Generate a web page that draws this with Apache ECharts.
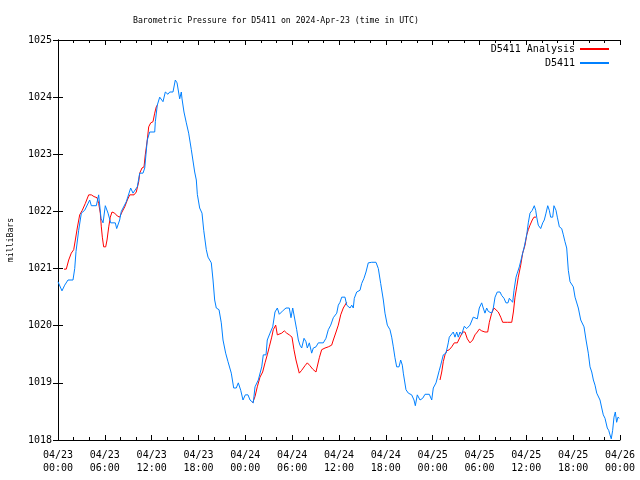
<!DOCTYPE html>
<html>
<head>
<meta charset="utf-8">
<script src="https://cdn.jsdelivr.net/npm/echarts@6/dist/echarts.min.js"></script>
<style>
html,body{margin:0;padding:0;background:#fff;}
#chart{width:640px;height:480px;}
</style>
</head>
<body>
<div id="chart"></div>
<script>
// Hours since 2024-04-23 00:00 UTC
var xTickLabels = ['04/23\n00:00','04/23\n06:00','04/23\n12:00','04/23\n18:00','04/24\n00:00','04/24\n06:00','04/24\n12:00','04/24\n18:00','04/25\n00:00','04/25\n06:00','04/25\n12:00','04/25\n18:00','04/26\n00:00'];
var yTickValues = [1018,1019,1020,1021,1022,1023,1024,1025];

var obsHours = [0.0,0.51,0.86,1.28,1.92,2.14,2.31,2.65,2.99,3.42,4.06,4.27,4.91,5.21,5.51,5.77,6.06,6.41,6.75,7.34,7.52,7.90,8.11,8.75,9.31,9.61,10.16,10.47,10.89,11.11,11.44,11.75,12.39,12.47,12.72,13.03,13.23,13.45,13.75,14.09,14.31,14.73,15.03,15.25,15.59,15.80,15.89,16.14,16.44,16.74,17.08,17.51,17.72,17.85,18.15,18.45,18.67,19.0,19.22,19.64,19.86,20.07,20.28,20.63,20.92,21.14,21.48,21.78,22.20,22.51,22.84,23.10,23.41,23.70,24.0,24.34,24.6,25.02,25.24,25.66,26.10,26.30,26.65,26.81,27.16,27.51,27.80,28.10,28.35,28.86,29.21,29.63,29.85,30.07,30.58,30.79,31.0,31.22,31.52,31.77,31.94,32.20,32.50,32.71,33.05,33.35,33.99,34.33,34.63,34.94,35.27,35.71,35.91,36.13,36.35,36.77,36.99,37.41,37.63,37.83,37.96,38.27,38.69,38.91,39.20,39.46,39.75,40.19,40.74,41.04,41.34,41.68,41.89,42.19,42.53,42.75,42.96,43.17,43.39,43.69,43.90,44.11,44.24,44.58,44.88,45.31,45.61,45.78,46.03,46.38,46.72,47.02,47.57,47.88,48.08,48.43,48.85,49.03,49.36,49.71,50.0,50.13,50.64,50.86,51.08,51.28,51.50,51.72,52.05,52.36,52.56,52.78,53.0,53.20,53.42,53.72,53.97,54.28,54.48,54.70,54.92,55.13,55.34,55.56,55.77,55.99,56.28,56.63,56.84,57.14,57.39,57.65,57.82,58.0,58.25,58.42,58.68,58.84,59.10,59.32,59.53,59.70,59.87,60.05,60.25,60.47,60.76,61.02,61.20,61.33,61.53,61.84,62.10,62.30,62.52,62.74,62.94,63.12,63.38,63.54,63.80,63.97,64.23,64.53,64.74,64.95,65.17,65.38,65.60,65.81,66.02,66.24,66.45,66.66,66.97,67.17,67.39,67.65,67.94,68.16,68.38,68.59,68.80,69.02,69.22,69.44,69.66,69.86,70.08,70.37,70.55,70.72,70.88,71.06,71.23,71.40,71.57,71.74,71.91];
var obsPressure = [1020.77,1020.61,1020.71,1020.8,1020.8,1021.0,1021.3,1021.67,1021.97,1022.02,1022.2,1022.1,1022.1,1022.29,1021.88,1021.8,1022.1,1021.97,1021.8,1021.8,1021.7,1021.85,1022.0,1022.17,1022.41,1022.32,1022.43,1022.67,1022.67,1022.76,1023.25,1023.39,1023.39,1023.57,1023.86,1024.0,1023.97,1023.92,1024.09,1024.05,1024.09,1024.09,1024.3,1024.25,1023.97,1024.09,1023.97,1023.74,1023.55,1023.37,1023.08,1022.69,1022.55,1022.3,1022.06,1021.97,1021.67,1021.33,1021.2,1021.1,1020.8,1020.45,1020.31,1020.28,1020.05,1019.75,1019.52,1019.37,1019.17,1018.91,1018.91,1019.0,1018.87,1018.7,1018.79,1018.79,1018.7,1018.65,1018.93,1019.05,1019.28,1019.49,1019.49,1019.75,1019.87,1019.98,1020.24,1020.31,1020.2,1020.27,1020.31,1020.31,1020.14,1020.31,1019.93,1019.75,1019.66,1019.61,1019.78,1019.72,1019.61,1019.70,1019.52,1019.61,1019.63,1019.70,1019.70,1019.78,1019.93,1020.01,1020.14,1020.22,1020.36,1020.41,1020.5,1020.5,1020.36,1020.31,1020.36,1020.31,1020.48,1020.59,1020.62,1020.74,1020.83,1020.94,1021.1,1021.11,1021.11,1021.0,1020.74,1020.45,1020.22,1020.01,1019.93,1019.8,1019.63,1019.44,1019.28,1019.28,1019.4,1019.31,1019.17,1018.88,1018.82,1018.79,1018.7,1018.6,1018.79,1018.7,1018.73,1018.8,1018.8,1018.7,1018.91,1019.0,1019.22,1019.31,1019.49,1019.52,1019.7,1019.8,1019.89,1019.8,1019.89,1019.8,1019.89,1019.85,1019.99,1019.95,1019.92,1020.01,1019.98,1020.15,1020.15,1020.12,1020.31,1020.4,1020.31,1020.22,1020.31,1020.25,1020.22,1020.22,1020.31,1020.5,1020.59,1020.59,1020.53,1020.48,1020.4,1020.4,1020.48,1020.45,1020.41,1020.62,1020.85,1020.92,1021.03,1021.15,1021.27,1021.36,1021.47,1021.59,1021.8,1021.97,1022.02,1022.1,1022.02,1021.9,1021.76,1021.7,1021.8,1021.85,1021.97,1022.1,1022.02,1021.9,1021.9,1022.1,1022.02,1021.9,1021.73,1021.7,1021.59,1021.47,1021.36,1020.97,1020.77,1020.75,1020.68,1020.5,1020.48,1020.31,1020.1,1020.08,1019.98,1019.75,1019.52,1019.28,1019.19,1019.05,1018.96,1018.82,1018.79,1018.7,1018.56,1018.44,1018.38,1018.21,1018.17,1018.09,1018.02,1018.17,1018.4,1018.49,1018.31,1018.4,1018.38];

var anaHours = [0.77,1.06,1.37,1.70,2.01,2.22,2.47,2.78,3.11,3.50,3.93,4.27,4.61,5.0,5.21,5.42,5.55,5.68,5.85,6.11,6.28,6.50,6.70,6.92,7.26,7.60,7.90,8.20,8.55,8.88,9.19,9.74,10.03,10.34,10.47,10.76,11.02,11.18,11.44,11.62,11.88,12.17,12.39,12.59,12.72,
  18.0,
  24.94,25.24,25.53,25.88,26.22,26.52,26.81,27.07,27.38,27.58,27.89,28.10,28.35,28.66,28.99,29.30,29.63,29.98,30.23,30.49,30.91,31.22,31.64,31.94,32.28,32.63,33.05,33.22,33.48,33.78,34.21,34.63,35.06,35.27,35.62,35.91,36.22,36.55,36.99,
  42.0,
  48.94,49.16,49.36,49.58,49.80,50.13,50.44,50.77,51.16,51.50,51.85,52.14,52.44,52.78,53.13,53.42,53.72,53.97,54.28,54.70,55.05,55.26,55.56,55.86,56.11,56.41,56.72,56.97,57.56,58.13,58.34,58.55,58.77,58.97,59.28,59.53,59.83,60.05,60.25,60.47,60.76,60.98,61.24];
var anaPressure = [1020.99,1020.99,1021.15,1021.27,1021.33,1021.5,1021.71,1021.94,1022.02,1022.14,1022.29,1022.29,1022.26,1022.24,1022.14,1021.97,1021.73,1021.55,1021.38,1021.38,1021.5,1021.73,1021.9,1021.99,1021.97,1021.92,1021.9,1021.99,1022.08,1022.2,1022.29,1022.29,1022.34,1022.52,1022.67,1022.76,1022.78,1022.99,1023.25,1023.48,1023.55,1023.57,1023.72,1023.83,1023.86,
  null,
  1018.65,1018.76,1018.93,1019.1,1019.19,1019.35,1019.49,1019.63,1019.8,1019.93,1020.01,1019.84,1019.86,1019.87,1019.91,1019.87,1019.84,1019.8,1019.58,1019.4,1019.17,1019.22,1019.3,1019.35,1019.3,1019.24,1019.19,1019.22,1019.44,1019.58,1019.61,1019.63,1019.66,1019.75,1019.89,1020.01,1020.19,1020.31,1020.41,
  null,
  1019.05,1019.19,1019.37,1019.49,1019.56,1019.58,1019.63,1019.7,1019.7,1019.8,1019.89,1019.89,1019.77,1019.7,1019.75,1019.84,1019.89,1019.94,1019.91,1019.89,1019.89,1020.06,1020.22,1020.31,1020.34,1020.24,1020.15,1020.06,1020.06,1020.06,1020.24,1020.5,1020.68,1020.85,1021.06,1021.27,1021.41,1021.59,1021.68,1021.76,1021.85,1021.9,1021.9];

var seriesNames = ['D5411 Analysis','D5411'];
var titleText = 'Barometric Pressure for D5411 on 2024-Apr-23 (time in UTC)';
var yAxisName = 'milliBars';

function pairs(t, v){ return t.map(function(x,i){ return [x, v[i] === null ? '-' : v[i]]; }); }

var FONT = 'DejaVu Sans Mono';
var chart = echarts.init(document.getElementById('chart'), null, {renderer:'canvas'});
var axisLine = {show:true, lineStyle:{color:'#000', width:1}};
var xCommon = {
  type:'value', min:0, max:72, interval:6,
  axisLine: axisLine,
  axisTick:{show:true, inside:true, length:5, lineStyle:{color:'#000'}},
  minorTick:{show:true, splitNumber:3, length:3, lineStyle:{color:'#000'}},
  splitLine:{show:false}
};
var yCommon = {
  type:'value', min:1018, max:1025, interval:1,
  axisLine: axisLine,
  axisTick:{show:true, inside:true, length:5, lineStyle:{color:'#000'}},
  splitLine:{show:false}
};
chart.setOption({
  animation:false,
  backgroundColor:'#fff',
  title:{
    text:titleText, left:128, top:12,
    textStyle:{fontFamily:FONT, fontSize:8.2, fontWeight:'normal', color:'#000'}
  },
  legend:{
    data:seriesNames, orient:'vertical', right:25, top:39, align:'right',
    itemWidth:29, itemHeight:10, itemGap:4,
    itemStyle:{opacity:0},
    textStyle:{fontFamily:FONT, fontSize:10, color:'#000'}
  },
  grid:{left:58, right:20, top:40, bottom:40, outerBoundsMode:'none', containLabel:false},
  xAxis:[
    Object.assign({}, xCommon, {position:'bottom',
      axisLabel:{show:true, margin:9, fontFamily:FONT, fontSize:10, color:'#000', lineHeight:13,
        formatter:function(v){ var i = Math.round(v/6); return xTickLabels[i] || ''; }}}),
    Object.assign({}, xCommon, {position:'top', axisLabel:{show:false}})
  ],
  yAxis:[
    Object.assign({}, yCommon, {position:'left', name:yAxisName, nameLocation:'middle', nameGap:43,
      nameTextStyle:{fontFamily:FONT, fontSize:8.2, color:'#000'},
      axisLabel:{show:true, margin:6, fontFamily:FONT, fontSize:10, color:'#000',
        formatter:function(v){ return yTickValues.indexOf(v) >= 0 ? String(v) : ''; }}}),
    Object.assign({}, yCommon, {position:'right', axisLabel:{show:false}})
  ],
  series:[
    {name:seriesNames[0], type:'line', xAxisIndex:0, yAxisIndex:0, symbol:'none', connectNulls:false,
      lineStyle:{color:'#ff0000', width:1}, itemStyle:{color:'#ff0000'},
      data:pairs(anaHours, anaPressure)},
    {name:seriesNames[1], type:'line', xAxisIndex:0, yAxisIndex:0, symbol:'none',
      lineStyle:{color:'#0080ff', width:1}, itemStyle:{color:'#0080ff'},
      data:pairs(obsHours, obsPressure)}
  ]
});
</script>
</body>
</html>
